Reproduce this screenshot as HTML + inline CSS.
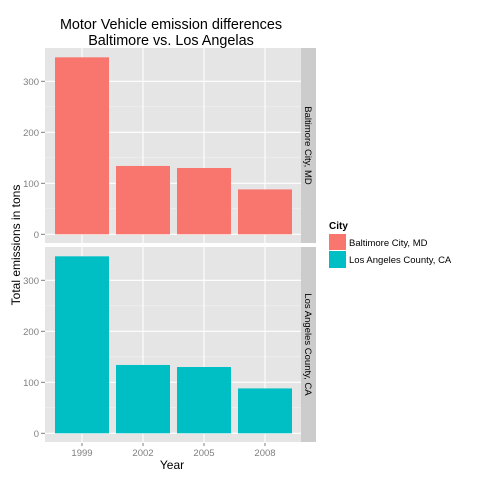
<!DOCTYPE html>
<html><head><meta charset="utf-8"><style>
body{margin:0;background:#fff}
svg{display:block;font-family:"Liberation Sans",Arial,sans-serif}
</style></head><body>
<svg id="chart" width="480" height="480" viewBox="0 0 480 480">
<text x="171" y="29" text-anchor="middle" font-size="14.4" fill="#000">Motor Vehicle emission differences</text>
<text x="171" y="45" text-anchor="middle" font-size="14.4" fill="#000">Baltimore vs. Los Angelas</text>
<text x="172" y="469" text-anchor="middle" font-size="12" fill="#000">Year</text>
<text transform="translate(20,245) rotate(-90)" text-anchor="middle" font-size="12" fill="#000">Total emissions in tons</text>
<g id="panels"></g>
<g>
<text x="329" y="229" font-size="10" font-weight="bold" fill="#000">City</text>
<rect x="329" y="234" width="17" height="16" fill="#F8766D"/>
<text x="349" y="246" font-size="9.5" fill="#000">Baltimore City, MD</text>
<rect x="329" y="251" width="17" height="17" fill="#00BFC4"/>
<text x="349" y="263" font-size="9.5" fill="#000">Los Angeles County, CA</text>
</g>
</svg>
<script>
const years = ["1999","2002","2005","2008"];
const cities = ["Baltimore City, MD","Los Angeles County, CA"];
const baltimoreValues = [347, 134, 130, 88];
const laValues = [347, 134, 130, 88];
const yTicks = [0,100,200,300];
const colors = ["#F8766D","#00BFC4"];
const series = [baltimoreValues, laValues];

const NS="http://www.w3.org/2000/svg";
const g=document.getElementById('panels');
function mk(tag,attrs,parent){const e=document.createElementNS(NS,tag);for(const k in attrs)e.setAttribute(k,attrs[k]);(parent||g).appendChild(e);return e;}
const px0=45, px1=301, step=61, bw=54;
function xc(i){return 82+i*step;}
const panelTops=[48,247], zeros=[234.3,433.3], ppu=0.51;
series.forEach((vals,p)=>{
  const top=panelTops[p], bot=top+195, z=zeros[p];
  const y=v=>z-v*ppu;
  const bg=mk('rect',{x:px0,y:top,width:px1-px0,height:bot-top,fill:'#E5E5E5'});
  
  
  yTicks.forEach((t,i)=>{
    if(i<yTicks.length-1){const m=mk('line',{x1:px0,x2:px1,y1:y(t+50),y2:y(t+50),stroke:'#F2F2F2','stroke-width':0.6});
      }
    const l=mk('line',{x1:px0,x2:px1,y1:y(t),y2:y(t),stroke:'#fff','stroke-width':1.1});
    
    const tk=mk('line',{x1:px0-4,x2:px0,y1:y(t),y2:y(t),stroke:'#7F7F7F','stroke-width':1});
    
    const tx=mk('text',{x:px0-6,y:y(t)+3.5,'text-anchor':'end','font-size':9.5,fill:'#7F7F7F'});
    tx.textContent=t;
    
  });
  years.forEach((yr,i)=>{
    const l=mk('line',{x1:xc(i),x2:xc(i),y1:top,y2:bot,stroke:'#fff','stroke-width':1.1});
    
  });
  vals.forEach((v,i)=>{
    const r=mk('rect',{x:xc(i)-bw/2,y:y(v),width:bw,height:z-y(v),fill:colors[p]});
    
    
  });
  const s=mk('rect',{x:301,y:top,width:15,height:bot-top,fill:'#CCCCCC'});
  
  const st=mk('text',{transform:`translate(305,${(top+bot)/2}) rotate(90)`,'text-anchor':'middle','font-size':9.5,fill:'#000'});
  st.textContent=cities[p];
  
});
years.forEach((yr,i)=>{
  const tk=mk('line',{x1:xc(i),x2:xc(i),y1:443,y2:446,stroke:'#7F7F7F','stroke-width':1});
  
  const t=mk('text',{x:xc(i),y:456,'text-anchor':'middle','font-size':9.5,fill:'#7F7F7F'});
  t.textContent=yr;
  
});
</script>
</body></html>
